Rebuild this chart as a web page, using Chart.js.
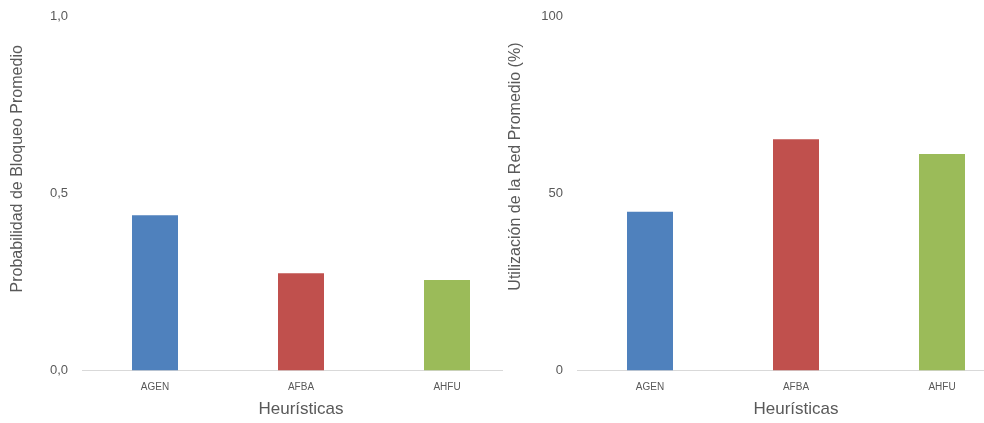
<!DOCTYPE html>
<html>
<head>
<meta charset="utf-8">
<script src="https://cdn.jsdelivr.net/npm/chart.js@4"></script>
<style>
  body { margin: 0; background: #fff; width: 984px; height: 423px; overflow: hidden; position: relative; }
  .box { position: absolute; top: 0; height: 423px; overflow: hidden; }
  #leftBox { left: 0; width: 503px; }
  #rightBox { left: 503px; width: 481px; }
  canvas { display: block; }
</style>
</head>
<body>
<div class="box" id="leftBox"><canvas id="chartLeft" width="530" height="423"></canvas></div>
<div class="box" id="rightBox"><canvas id="chartRight" width="530" height="423"></canvas></div>
<script>
// data
const categories = ['AGEN', 'AFBA', 'AHFU'];
const barColors = ['#4F81BD', '#C0504D', '#9BBB59'];
const blockingProb = [0.438, 0.274, 0.255];
const networkUse = [44.8, 65.2, 61.1];
const leftTicks = [0, 0.5, 1];
const rightTicks = [0, 50, 100];

const grey = '#595959';
const fontFam = "'Liberation Sans', Arial, sans-serif";

function makeChart(canvas, values, ticks, yTitle, yWidth, titlePad, padRight, fmt) {
  return new Chart(canvas, {
    type: 'bar',
    data: {
      labels: categories,
      datasets: [{
        data: values,
        backgroundColor: barColors,
        borderWidth: 0,
        barPercentage: 46 / 146,
        categoryPercentage: 1
      }]
    },
    options: {
      responsive: false,
      animation: false,
      layout: { padding: { top: 16, right: padRight, bottom: 0, left: 0 } },
      plugins: { legend: { display: false }, tooltip: { enabled: false } },
      scales: {
        x: {
          grid: { display: false, drawTicks: false },
          border: { display: true, color: '#d9d9d9', width: 1 },
          ticks: { color: grey, padding: 11, font: { family: fontFam, size: 10 } },
          title: { display: true, text: 'Heurísticas', color: grey, padding: { top: 0, bottom: 3 },
                   font: { family: fontFam, size: 17 } },
          afterFit: function(s) { s.height = 52.5; s.paddingLeft = 0; s.paddingRight = 0; }
        },
        y: {
          min: ticks[0],
          max: ticks[ticks.length - 1],
          afterBuildTicks: function(s) { s.ticks = ticks.map(v => ({ value: v })); },
          grid: { display: false, drawTicks: false },
          border: { display: false },
          ticks: { color: grey, padding: 14, font: { family: fontFam, size: 13 }, callback: fmt },
          title: { display: true, text: yTitle, color: grey, padding: { top: titlePad, bottom: 0 },
                   font: { family: fontFam, size: 16 } },
          afterFit: function(s) { s.width = yWidth; s.paddingTop = 0; s.paddingBottom = 0; }
        }
      }
    }
  });
}

makeChart(document.getElementById('chartLeft'), blockingProb, leftTicks,
  '           Probabilidad de Bloqueo Promedio', 82, 8, 10,
  v => v.toFixed(1).replace('.', ','));

makeChart(document.getElementById('chartRight'), networkUse, rightTicks,
  '            Utilización de la Red Promedio (%)', 74, 3, 18,
  v => String(v));
</script>
</body>
</html>
